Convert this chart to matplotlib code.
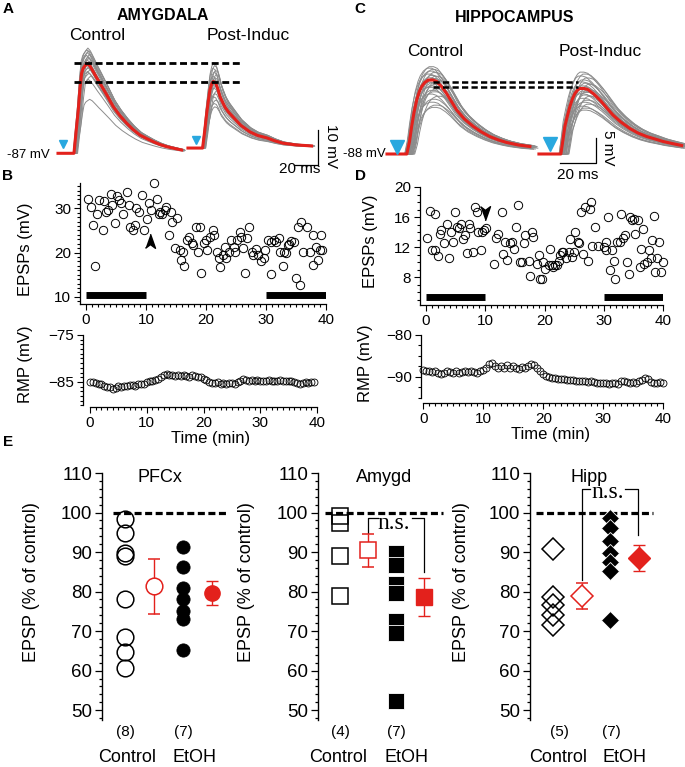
import matplotlib
matplotlib.use("Agg")
import matplotlib.pyplot as plt
import numpy as np

plt.rcParams['font.family'] = ['Liberation Sans', 'DejaVu Sans']

W, H = 685, 767
RED = '#e3211c'
GRAY = '#8c8c8c'
CYAN = '#29a8df'

# ---- A / C : EPSP traces (ms, mV), red = average, gray = sweeps scaled from it
amy_ctrl_t = [0, 13.3, 15, 16.9, 18.3, 19.7, 21, 22.5, 24.4, 26.5, 29.4, 32, 35, 40.6, 46.1,
              51.5, 57.2, 62.5, 68.3, 74, 79.4, 85, 90.6, 97, 103]
amy_ctrl_v = [0, 0, 6, 12.4, 18.5, 22.9, 24.3, 25.0, 25.7, 25.0, 23.3, 21.7, 20.0, 16.7, 13.3,
              10.8, 8.6, 6.8, 5.2, 4.2, 3.3, 2.5, 1.9, 1.4, 0.95]
amy_post_t = [0, 12.2, 14, 15.6, 17, 18.3, 19.7, 21.1, 23, 25, 26.7, 29, 31, 34, 37.5, 44,
              51.7, 58, 65.8, 72, 79, 90, 103]
amy_post_v = [0, 0, 5, 9.9, 13.5, 16.6, 18.3, 19.0, 18.6, 16.8, 14.7, 13.0, 11.6, 10.2, 8.9, 6.5,
              4.6, 3.6, 2.9, 2.1, 1.4, 0.9, 0.6]
amy_ctrl_amps = [1.17, 1.15, 1.14, 1.12, 1.1, 1.09, 1.07, 1.06, 1.04, 1.03, 1.01, 1.0, 0.98,
                 0.97, 0.95, 0.93, 0.91, 0.89, 0.86, 0.82, 0.6]
amy_ctrl_shift = [0.5, -0.4, 1.2, 0.0, 2.0, -0.6, 0.8, 1.6, -0.2, 2.6, 0.3, 1.0, -0.5, 1.8,
                  0.6, 2.4, 0.1, 1.4, 3.0, 0.9, 2.0]
amy_post_amps = [1.28, 1.24, 1.2, 1.17, 1.14, 1.11, 1.08, 1.06, 1.03, 1.01, 0.99, 0.96, 0.93,
                 0.9, 0.86, 0.82, 0.77, 0.72, 0.67, 0.62]
amy_post_shift = [0.2, 1.0, -0.3, 1.8, 0.6, 2.4, -0.5, 1.2, 0.0, 2.0, 0.8, -0.2, 1.5, 0.4,
                  2.6, 1.0, 0.2, 1.8, 0.6, 1.2]

hip_ctrl_t = [0, 11, 12.5, 13.7, 15, 16.5, 18, 19.3, 21, 23, 25.5, 27.6, 30.5, 33.1, 36, 38.7,
              43, 48, 52.5, 57, 62, 66.5, 73, 79.4]
hip_ctrl_v = [0, 0, 2.5, 5.5, 8.3, 10.8, 12.5, 13.5, 14.3, 14.8, 14.8, 14.5, 13.4, 12.1, 10.4,
              8.8, 7.0, 5.5, 4.4, 3.5, 2.8, 2.3, 1.8, 1.5]
hip_post_t = [0, 12.2, 13.3, 14.4, 15.8, 17.2, 18.6, 20, 21.5, 22.8, 25, 27.2, 30.5, 33.9, 37.5,
              41.1, 45.5, 50.5, 55, 59.8, 64.5, 69, 74, 79.3]
hip_post_v = [0, 0, 2.7, 5.5, 7.6, 9.5, 11, 12.1, 12.8, 13.1, 13.1, 12.9, 12.0, 10.8, 9.3, 7.8,
              6.4, 5.1, 4.2, 3.5, 3.0, 2.5, 2.1, 1.7]
hip_ctrl_amps = [1.18, 1.16, 1.14, 1.12, 1.1, 1.08, 1.06, 1.05, 1.03, 1.02, 1.0, 0.99, 0.97,
                 0.96, 0.94, 0.92, 0.9, 0.88, 0.86, 0.84, 0.81, 0.78, 0.74, 0.7, 0.66, 0.63]
hip_ctrl_shift = [0.4, -0.8, 1.5, 0.0, 2.5, -1.2, 0.9, 3.2, -0.4, 1.8, 0.2, 4.0, -1.0, 1.2,
                  2.8, 0.5, -0.6, 3.5, 1.0, 2.2, -0.2, 4.4, 1.6, 0.7, 3.0, 2.0]
hip_post_amps = [1.25, 1.22, 1.19, 1.16, 1.13, 1.1, 1.08, 1.06, 1.04, 1.02, 1.0, 0.98, 0.96,
                 0.94, 0.92, 0.9, 0.88, 0.85, 0.82, 0.79, 0.76, 0.73, 0.7, 0.67]
hip_post_shift = [0.0, 1.6, -0.9, 3.0, 0.6, -0.4, 2.2, 4.2, 0.2, 1.2, -1.0, 3.6, 0.8, 2.6,
                  -0.3, 1.8, 4.5, 0.4, 2.9, 1.1, 3.8, 0.0, 2.0, 1.4]

# ---- B / D : EPSP amplitude over time (min, mV)
amy_t = [0.4, 0.8, 1.1, 1.5, 1.9, 2.1, 2.8, 3.0, 3.4, 3.7, 4.1, 4.4, 4.8, 5.2, 5.5, 5.9, 6.2,
         6.8, 7.1, 7.3, 7.8, 8.2, 8.4, 8.9, 9.4, 9.7, 10.1, 10.5, 10.9, 11.3, 11.8, 12.1, 12.3,
         12.7, 13.1, 13.4, 13.9, 14.1, 14.4, 14.8, 15.2, 15.7, 15.8, 16.1, 16.3, 16.8, 17.2,
         17.6, 17.9, 18.4, 18.7, 19.0, 19.2, 19.6, 20.0, 20.1, 20.7, 21.1, 21.3, 21.8, 22.1,
         22.4, 22.8, 23.2, 23.4, 23.9, 24.1, 24.6, 24.8, 25.2, 25.6, 25.8, 26.1, 26.5, 26.9,
         27.2, 27.6, 27.9, 28.3, 28.7, 29.1, 29.6, 29.8, 30.4, 30.8, 30.9, 31.3, 31.7, 32.1,
         32.4, 32.8, 33.0, 33.4, 33.6, 33.9, 34.1, 34.7, 35.0, 35.4, 35.7, 35.9, 36.2, 36.8,
         37.3, 37.8, 37.9, 38.3, 38.7, 39.0, 39.2, 39.4]
amy_v = [32.2, 30.3, 26.2, 17.0, 28.8, 31.8, 25.1, 31.7, 29.2, 29.6, 33.3, 30.7, 26.6, 32.7,
         31.8, 31.1, 28.8, 33.7, 30.7, 25.8, 25.1, 26.2, 30.0, 29.2, 33.0, 25.1, 27.5, 31.1,
         29.6, 35.6, 32.2, 28.8, 29.2, 28.8, 29.6, 30.3, 24.0, 29.2, 26.9, 21.0, 27.7, 20.6,
         18.3, 20.2, 17.0, 22.8, 23.6, 22.1, 21.7, 25.8, 20.2, 25.8, 15.5, 22.1, 22.8, 20.6,
         23.6, 25.1, 24.0, 20.2, 18.7, 16.8, 19.5, 21.3, 18.7, 20.2, 22.8, 21.3, 20.2, 22.8,
         24.7, 23.6, 21.0, 15.5, 23.2, 25.8, 20.2, 19.5, 20.7, 19.5, 18.0, 18.7, 20.6, 22.8,
         15.2, 22.5, 22.8, 22.5, 23.2, 20.2, 17.0, 20.2, 19.8, 21.7, 21.9, 22.6, 22.5, 14.2,
         25.8, 12.7, 27.0, 20.2, 25.8, 20.2, 24.0, 17.2, 21.3, 18.3, 20.6, 24.0, 20.6]

hip_t = [0.2, 0.6, 1.0, 1.5, 1.6, 2.1, 2.4, 2.6, 3.0, 3.5, 3.9, 4.2, 4.6, 4.9, 5.2, 5.5, 5.9,
         6.3, 6.6, 6.9, 7.3, 7.5, 8.0, 8.3, 8.6, 8.8, 9.2, 9.4, 9.8, 10.1, 11.5, 11.8, 12.2,
         12.8, 13.0, 13.4, 13.6, 14.1, 14.5, 14.8, 15.2, 15.6, 15.9, 16.2, 16.5, 16.7, 17.3,
         17.6, 17.9, 18.1, 18.7, 19.0, 19.3, 19.6, 19.8, 20.1, 20.7, 21.0, 21.2, 21.5, 21.8,
         22.1, 22.4, 22.6, 22.9, 23.2, 23.7, 24.1, 24.3, 24.6, 24.9, 25.2, 25.6, 25.9, 26.1,
         26.5, 26.9, 27.3, 27.6, 27.8, 28.0, 28.6, 29.1, 30.0, 30.3, 30.4, 30.8, 31.1, 31.4,
         31.8, 31.9, 32.2, 32.7, 32.9, 33.2, 33.6, 33.9, 34.2, 34.5, 34.8, 35.1, 35.3, 35.7,
         36.1, 36.3, 36.6, 36.8, 37.3, 37.6, 37.9, 38.1, 38.4, 38.7, 39.0, 39.4, 39.7, 40.0]
hip_v = [13.2, 16.8, 11.6, 11.6, 16.4, 10.8, 13.8, 14.3, 12.5, 15.1, 10.5, 14.0, 12.7, 16.7,
         14.7, 14.5, 15.1, 13.1, 13.6, 11.2, 15.1, 14.5, 11.3, 17.3, 16.7, 14.0, 11.6, 14.0,
         14.3, 14.5, 9.8, 13.2, 13.8, 16.7, 11.1, 12.7, 10.3, 12.5, 12.7, 11.8, 14.7, 17.6,
         10.0, 10.0, 12.5, 13.6, 10.2, 8.2, 14.0, 13.4, 9.8, 10.9, 7.8, 7.8, 10.0, 9.1, 9.6,
         11.8, 9.6, 9.3, 9.6, 9.6, 10.2, 10.9, 11.3, 11.3, 10.5, 11.3, 13.1, 10.7, 11.3, 14.0,
         12.7, 12.5, 16.7, 11.1, 17.3, 10.2, 17.1, 18.0, 12.2, 14.7, 12.2, 12.0, 12.7, 11.6,
         16.0, 8.9, 11.6, 10.2, 7.8, 12.7, 12.7, 16.4, 13.2, 13.6, 10.0, 8.4, 16.0, 15.6, 15.8,
         13.8, 15.6, 9.3, 11.8, 14.4, 9.8, 10.0, 11.6, 10.5, 12.9, 16.1, 8.7, 10.5, 12.7, 8.7,
         10.0]

# resting membrane potential, one value every 0.5 min
amy_rmp = [-85.0, -85.1, -85.3, -85.5, -85.4, -85.8, -86.1, -86.0, -86.4, -86.2,
           -85.9, -86.0, -85.8, -85.9, -85.7, -85.6, -85.8, -85.5, -85.4, -85.5,
           -85.0, -84.9, -84.8, -84.6, -84.3, -84.0, -83.6, -83.4, -83.5, -83.6,
           -83.7, -83.5, -83.8, -83.6, -83.7, -83.9, -83.6, -83.8, -84.0, -83.9,
           -84.3, -84.6, -85.0, -85.2, -85.3, -85.1, -85.4, -85.2, -85.5, -85.3,
           -85.2, -85.4, -85.0, -84.8, -84.3, -84.6, -84.9, -84.6, -84.8, -84.6,
           -84.7, -84.9, -84.8, -84.6, -84.9, -84.7, -84.8, -84.6, -84.9, -84.8,
           -84.7, -84.9, -85.0, -85.2, -85.4, -85.3, -85.1, -85.2, -85.0, -85.1]
hip_rmp = [-88.3, -88.5, -88.6, -88.9, -88.7, -89.0, -89.3, -89.1, -88.6, -88.8,
           -89.0, -88.7, -89.1, -88.9, -88.6, -88.8, -88.5, -88.9, -89.0, -88.6,
           -88.3, -87.8, -87.0, -86.8, -87.4, -87.9, -87.5, -87.8, -87.2, -88.0,
           -87.4, -87.8, -88.2, -87.6, -87.9, -87.3, -86.9, -87.2, -87.8, -88.6,
           -89.4, -89.8, -90.1, -90.3, -90.4, -90.5, -90.6, -90.5, -90.7, -90.8,
           -90.8, -90.9, -91.0, -90.9, -91.1, -91.2, -91.1, -91.3, -91.4, -91.5,
           -91.6, -91.5, -91.7, -91.6, -91.5, -91.7, -91.1, -91.0, -91.3, -91.4,
           -91.2, -91.4, -91.0, -90.8, -90.4, -90.6, -91.2, -91.5, -91.6, -91.3, -91.4]
periods = [(0, 10), (30, 40)]

# ---- E : EPSP (% of control)
groups = ['Control', 'EtOH']
pfc_ctrl = [98.3, 94.8, 89.7, 89.1, 78.1, 68.6, 64.8, 60.6]
pfc_etoh = [91.2, 86.1, 80.9, 78.1, 75.0, 73.0, 65.1]
pfc_mean, pfc_sem = [81.3, 79.6], [6.9, 3.0]
amyg_ctrl = [99.0, 97.3, 89.1, 78.9]
amyg_etoh = [89.8, 86.8, 81.8, 79.7, 72.6, 69.4, 52.4]
amyg_mean, amyg_sem = [90.4, 78.6], [4.2, 4.8]
hipp_ctrl = [90.8, 78.7, 76.6, 74.1, 71.5]
hipp_etoh = [98.6, 96.1, 92.7, 89.8, 87.6, 85.1, 72.8]
hipp_mean, hipp_sem = [78.8, 88.5], [3.3, 3.4]

fig = plt.figure(figsize=(W / 100, H / 100), dpi=100)


def px_axes(x0, y0, x1, y1):
    return fig.add_axes([x0 / W, 1 - y1 / H, (x1 - x0) / W, (y1 - y0) / H])


def ftext(x, y, s, **kw):
    kw.setdefault('ha', 'center')
    kw.setdefault('va', 'center')
    fig.text(x / W, 1 - y / H, s, **kw)


def trace_axes(box, px0, py0, px_ms, px_mv):
    x0, y0, x1, y1 = box
    ax = px_axes(*box)
    ax.set_xlim((x0 - px0) / px_ms, (x1 - px0) / px_ms)
    ax.set_ylim((py0 - y1) / px_mv, (py0 - y0) / px_mv)
    ax.axis('off')
    return ax


def draw_traces(ax, t, v, amps, shifts, t_off, v_off):
    t = np.array(t) + t_off
    v = np.array(v)
    for a, s in zip(amps, shifts):
        # shift only the response, keep the baseline start fixed
        ts = t.copy()
        ts[1:] += s
        ax.plot(ts, v * a + v_off, color=GRAY, lw=0.7)
    ax.plot(t, v + v_off, color=RED, lw=2.2, solid_joinstyle='round')


# A: amygdala traces (1.2 px/ms, 3.5 px/mV)
axA = trace_axes((30, 20, 340, 180), 58, 153.3, 1.2, 3.5)
post_off_a = (108.3, 1.5)
draw_traces(axA, amy_ctrl_t, amy_ctrl_v, amy_ctrl_amps, amy_ctrl_shift, 0, 0)
draw_traces(axA, amy_post_t, amy_post_v, amy_post_amps, amy_post_shift, *post_off_a)
axA.hlines([max(amy_ctrl_v), max(amy_post_v) + post_off_a[1]], 13.3, 153.3, colors='k',
           lw=2, linestyles=(0, (2.5, 1.3)))
axA.plot([4.2, 115], [2.6, 3.7], 'v', color=CYAN, ms=5.5, ls='none')
axA.plot([196.7, 216.7, 216.7], [-3.34, -3.34, 6.66], color='k', lw=0.9)

# C: hippocampus traces (1.8 px/ms, 5 px/mV)
axC = trace_axes((340, 20, 685, 180), 387, 154, 1.8, 5.0)
post_off_c = (84.4, 0)
draw_traces(axC, hip_ctrl_t, hip_ctrl_v, hip_ctrl_amps, hip_ctrl_shift, 0, 0)
draw_traces(axC, hip_post_t, hip_post_v, hip_post_amps, hip_post_shift, *post_off_c)
axC.hlines([max(hip_ctrl_v) - 0.4, max(hip_post_v) + 0.3], 25.6, 106, colors='k',
           lw=1.8, linestyles=(0, (2.5, 1.3)))
axC.plot([5.7, 90.6], [1.5, 2.0], 'v', color=CYAN, ms=9.5, ls='none')
axC.plot([96.1, 116.1, 116.1], [-1.87, -1.87, 3.13], color='k', lw=0.9)

ftext(163, 15, 'AMYGDALA', weight='bold', size=11.5)
ftext(97, 35, 'Control', size=12.5)
ftext(248, 36, 'Post-Induc', size=12.5)
ftext(50, 155, '-87 mV', size=9.5, ha='right')
ftext(300, 169, '20 ms', size=11)
ftext(331, 146, '10 mV', size=11, rotation=-90)
ftext(515, 18, 'HIPPOCAMPUS', weight='bold', size=11.5)
ftext(435, 52, 'Control', size=12.5)
ftext(600, 52, 'Post-Induc', size=12.5)
ftext(386, 154, '-88 mV', size=9.5, ha='right')
ftext(578, 175, '20 ms', size=11)
ftext(608, 148, '5 mV', size=11, rotation=-90)
for letter, x, y in [('A', 8, 9), ('B', 8, 176), ('C', 360, 9), ('D', 360, 176), ('E', 8, 442)]:
    ftext(x, y, letter, weight='bold', size=11)


def time_axes(box, xlim, ylim, ymajor, yminor, label, lab_xy):
    x0, y0, x1, y1 = box
    ax = px_axes(*box)
    ax.set_xlim(*xlim)
    ax.set_ylim(*ylim)
    for s in ['top', 'right']:
        ax.spines[s].set_visible(False)
    for s in ['left', 'bottom']:
        ax.spines[s].set_linewidth(0.9)
    ax.set_xticks(np.arange(0, 41, 10))
    ax.set_xticks(np.arange(0, 41, 1), minor=True)
    ax.set_yticks(ymajor)
    ax.set_yticks(yminor, minor=True)
    ax.tick_params(which='both', direction='out', width=0.8, labelsize=11, pad=2.5)
    ax.tick_params(which='major', length=4)
    ax.tick_params(which='minor', length=2.3)
    ax.set_ylabel(label, fontsize=12)
    ax.yaxis.set_label_coords((lab_xy[0] - x0) / (x1 - x0), (y1 - lab_xy[1]) / (y1 - y0))
    return ax


arrow_up = [(0, 1), (0.6, -0.7), (0, -0.25), (-0.6, -0.7)]
arrow_dn = [(x, -y) for x, y in arrow_up]

# B
axB = time_axes((80, 183, 326, 304), (-1, 40), (8.4, 35.7), [10, 20, 30], np.arange(9, 36, 1),
                'EPSPs (mV)', (33, 249))
axB.plot(amy_t, amy_v, 'o', mfc='none', mec='k', ms=6, mew=0.7, clip_on=False)
for a, b in periods:
    axB.hlines(10.45, a, b, colors='k', lw=5)
axB.plot(10.7, 22.4, marker=arrow_up, color='k', ms=12, ls='none')

axBr = time_axes((83, 335, 317, 407.3), (-7 / 5.675, 40), (-90.4, -75), [-85, -75],
                 np.arange(-90, -74, 1), 'RMP (mV)', (33, 364))
axBr.spines['left'].set_bounds(-90, -75)
axBr.spines['bottom'].set_bounds(0, 40)
axBr.plot(np.arange(0, 40, 0.5), amy_rmp, 'o', mfc='none', mec='k', ms=5, mew=0.6, clip_on=False)
ftext(211, 438, 'Time (min)', size=12)

# D
axD = time_axes((420, 187, 663, 305), (-6 / 5.925, 40), (4.3, 20), [8, 12, 16, 20],
                np.arange(5, 21, 1), 'EPSPs (mV)', (378, 241))
axD.plot(hip_t, hip_v, 'o', mfc='none', mec='k', ms=6, mew=0.7, clip_on=False)
for a, b in periods:
    axD.hlines(5.4, a, b, colors='k', lw=5)
axD.plot(9.9, 16.7, marker=arrow_dn, color='k', ms=12, ls='none')

axDr = time_axes((420.7, 335, 663.3, 402.7), (-2.6 / 6, 40), (-96.2, -80), [-90, -80],
                 np.arange(-95, -79, 2.5), 'RMP (mV)', (373, 363))
axDr.spines['left'].set_bounds(-95, -80)
axDr.spines['bottom'].set_bounds(0, 40)
axDr.plot(np.arange(0, 40.5, 0.5), hip_rmp, 'o', mfc='none', mec='k', ms=5, mew=0.6, clip_on=False)
ftext(551, 435, 'Time (min)', size=12)


# E
def e_panel(x0, x_first, spacing, x_right, title, title_x, ctrl, etoh, mean, sem, mk, sizes,
            dash, ns_x, grp_x, lab_x, fill_edge):
    left = 1 - (x_first - x0) / spacing
    x1 = x_first + (x_right - 1) * spacing
    ax = px_axes(x0, 473, x1, 720)
    ax.set_xlim(left, x_right)
    ax.set_ylim(47.5, 110)
    for s in ['top', 'right', 'bottom']:
        ax.spines[s].set_visible(False)
    ax.spines['left'].set_linewidth(1)
    ax.set_xticks([])
    ax.set_yticks(np.arange(50, 111, 10))
    ax.set_yticks(np.arange(48, 111, 2), minor=True)
    ax.tick_params(which='both', direction='out', width=0.9, labelsize=13.5, pad=2)
    ax.tick_params(which='major', length=5)
    ax.tick_params(which='minor', length=2.5)
    ax.set_ylabel('EPSP (% of control)', fontsize=13)
    ax.yaxis.set_label_coords((lab_x - x0) / (x1 - x0), 0.56)
    ax.hlines(100, dash[0], dash[1], colors='k', lw=2.3, linestyles=(0, (2.2, 1.1)), zorder=1)
    ax.plot(np.full(len(ctrl), 1), ctrl, mk, mfc='none', mec='k', ms=sizes[0], mew=1.1,
            ls='none', clip_on=False, zorder=3)
    ax.plot(np.full(len(etoh), 3), etoh, mk, mfc='k', mec=fill_edge, ms=sizes[1], mew=0.6,
            ls='none', clip_on=False, zorder=3)
    ax.errorbar([2], [mean[0]], yerr=[sem[0]], fmt=mk, mfc='white', mec=RED, ms=sizes[2], mew=1.1,
                ecolor=RED, elinewidth=1, capsize=4, capthick=1, zorder=4)
    ax.errorbar([4], [mean[1]], yerr=[sem[1]], fmt=mk, mfc=RED, mec=RED, ms=sizes[3], mew=1,
                ecolor=RED, elinewidth=1, capsize=4, capthick=1, zorder=4)
    ftext(title_x, 477, title, size=13)
    for (n, g), nx, gx in zip([(f'({len(ctrl)})', groups[0]), (f'({len(etoh)})', groups[1])],
                              ns_x, grp_x):
        ftext(nx, 732, n, size=11)
        ftext(gx, 758, g, size=13)
    return ax


axE1 = e_panel(102, 125, 29, 4.6, 'PFCx', 160, pfc_ctrl, pfc_etoh, pfc_mean, pfc_sem, 'o',
               [12, 9.5, 12, 11], (0.59, 4.52), (125, 183), (127, 195), 40, 'k')
axE2 = e_panel(318, 340, 28, 4.7, 'Amygd', 384, amyg_ctrl, amyg_etoh, amyg_mean, amyg_sem, 's',
               [11.5, 11.5, 11.5, 11.5], (0.46, 4.68), (340, 396), (338, 406), 255, 'white')
axE3 = e_panel(530, 553, 28.7, 4.6, 'Hipp', 589, hipp_ctrl, hipp_etoh, hipp_mean, hipp_sem, 'D',
               [11.5, 9.2, 11, 11.5], (0.41, 4.5), (559, 611), (558, 625), 470, 'white')

# n.s. brackets
axE2.plot([2, 2, 2.35], [94.9, 98.6, 98.6], color='k', lw=0.9)
axE2.plot([3.56, 4, 4], [98.6, 98.6, 85.0], color='k', lw=0.9)
axE2.text(2.93, 95.8, 'n.s.', family='Liberation Serif', size=17, ha='center', va='baseline')
axE3.plot([2, 2, 2.29], [83.0, 106.0, 106.0], color='k', lw=0.9, clip_on=False)
axE3.plot([3.51, 3.96, 3.96], [106.0, 106.0, 94.4], color='k', lw=0.9, clip_on=False)
axE3.text(2.92, 103.6, 'n.s.', family='Liberation Serif', size=17, ha='center', va='baseline')

fig.savefig('out.png', dpi=100)
